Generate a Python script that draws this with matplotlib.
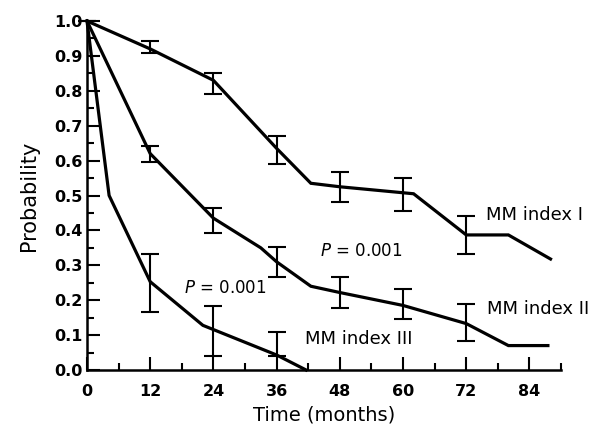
import matplotlib
matplotlib.use("Agg")
import matplotlib.pyplot as plt
from matplotlib.ticker import MultipleLocator

plt.rcParams['font.family'] = ['DejaVu Sans']

# survival curves (months, probability)
idx1_t = [0, 12, 24, 36, 42.5, 48, 62, 72, 80, 88]
idx1_p = [1.0, 0.92, 0.83, 0.635, 0.535, 0.525, 0.505, 0.387, 0.387, 0.318]
idx2_t = [0, 12, 24, 33, 36, 42.5, 48, 60, 72, 80, 87.5]
idx2_p = [1.0, 0.62, 0.435, 0.35, 0.31, 0.24, 0.222, 0.185, 0.133, 0.07, 0.07]
idx3_t = [0, 4.2, 12, 22, 36, 41.6]
idx3_p = [1.0, 0.50, 0.253, 0.128, 0.043, 0.0]

# error bars: month, lower, upper
err1_t = [0, 12, 24, 36, 48, 60, 72]
err1_lo = [1.0, 0.907, 0.791, 0.590, 0.482, 0.456, 0.331]
err1_hi = [1.0, 0.944, 0.852, 0.671, 0.568, 0.549, 0.442]
err2_t = [12, 24, 36, 48, 60, 72]
err2_lo = [0.597, 0.392, 0.266, 0.177, 0.146, 0.084]
err2_hi = [0.643, 0.463, 0.353, 0.267, 0.232, 0.189]
err3_t = [12, 24, 36]
err3_lo = [0.165, 0.041, 0.041]
err3_hi = [0.331, 0.184, 0.108]

fig = plt.figure(figsize=(6.02, 4.25), dpi=100)
ax = fig.add_axes([0.1445, 0.1294, 0.7875, 0.8212])

for t, p in [(idx1_t, idx1_p), (idx2_t, idx2_p), (idx3_t, idx3_p)]:
    ax.plot(t, p, color='black', lw=2.3, clip_on=False, solid_joinstyle='miter')

for t, lo, hi in [(err1_t, err1_lo, err1_hi), (err2_t, err2_lo, err2_hi), (err3_t, err3_lo, err3_hi)]:
    mid = [(a + b) / 2 for a, b in zip(lo, hi)]
    half = [(b - a) / 2 for a, b in zip(lo, hi)]
    ax.errorbar(t, mid, yerr=half, fmt='none', ecolor='black', elinewidth=1.5,
                capsize=6.8, capthick=1.5, clip_on=False)

ax.set_xlim(0, 90)
ax.set_ylim(0, 1.0)
ax.xaxis.set_minor_locator(MultipleLocator(6))
ax.yaxis.set_minor_locator(MultipleLocator(0.05))
ax.set_xticks([0, 12, 24, 36, 48, 60, 72, 84])
ax.set_yticks([i / 10 for i in range(11)])
ax.set_yticklabels([f"{i / 10:.1f}" for i in range(11)])

ax.spines['top'].set_visible(False)
ax.spines['right'].set_visible(False)
for s in ['left', 'bottom']:
    ax.spines[s].set_linewidth(1.8)

ax.tick_params(which='major', direction='in', length=9.5, width=1.5,
               labelsize=11.5, pad=3)
ax.tick_params(which='minor', direction='in', length=5, width=1.5)
ax.tick_params(axis='x', which='major', pad=10)
for lab in ax.get_xticklabels() + ax.get_yticklabels():
    lab.set_fontweight('bold')

ax.set_xlabel("Time (months)", fontsize=14, labelpad=5)
ax.set_ylabel("Probability", fontsize=15, labelpad=11)

ax.text(75.7, 0.445, "MM index I", fontsize=13, va='center', ha='left')
ax.text(76, 0.176, "MM index II", fontsize=13, va='center', ha='left')
ax.text(41.3, 0.09, "MM index III", fontsize=13, va='center', ha='left')
ax.text(44.2, 0.342, "$P$ = 0.001", fontsize=12, va='center', ha='left')
ax.text(18.4, 0.235, "$P$ = 0.001", fontsize=12, va='center', ha='left')

fig.savefig("out.png", dpi=100)
